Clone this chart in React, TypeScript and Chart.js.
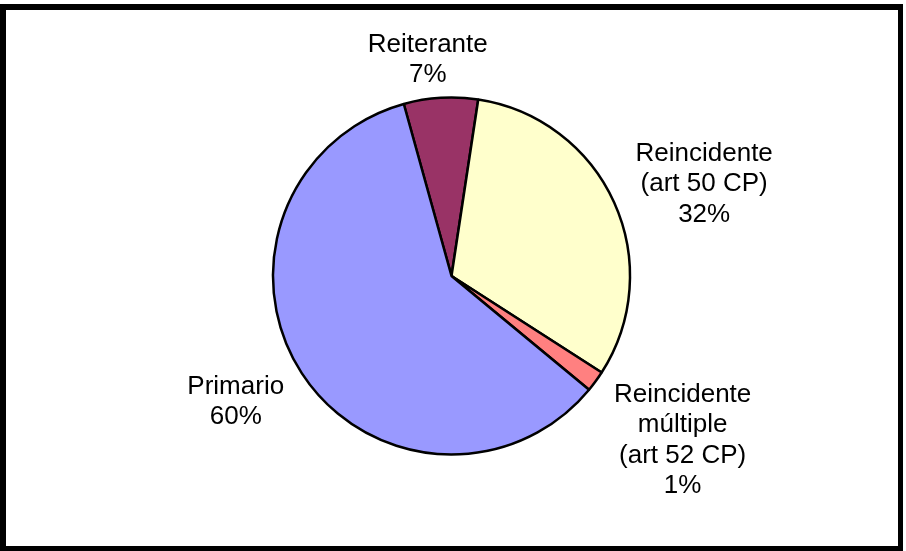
import React, { useEffect, useRef } from "react";
import { Chart, registerables } from "chart.js";

Chart.register(...registerables);

const categories = [
  "Reiterante",
  "Reincidente (art 50 CP)",
  "Reincidente múltiple (art 52 CP)",
  "Primario",
];
const values = [6.7, 31.7, 1.9, 59.7];
const percentLabels = ["7%", "32%", "1%", "60%"];
const labelLines = [
  ["Reiterante"],
  ["Reincidente", "(art 50 CP)"],
  ["Reincidente", "múltiple", "(art 52 CP)"],
  ["Primario"],
];
const colors = ["#993366", "#FFFFCC", "#FF8080", "#9999FF"];

// label block offsets relative to the slice's outer mid-point
const labelNudges = [
  { dx: -13, dy: -31 },
  { dx: 90, dy: -11 },
  { dx: 87, dy: 66 },
  { dx: -66, dy: 36 },
];

const labelPlugin = {
  id: "sliceLabels",
  afterDatasetsDraw(chart: any) {
    const ctx = chart.ctx;
    const meta = chart.getDatasetMeta(0);
    ctx.save();
    ctx.font = "26px 'Liberation Sans', Arial, sans-serif";
    ctx.fillStyle = "#000";
    ctx.textAlign = "center";
    ctx.textBaseline = "alphabetic";
    const lh = 30.5;
    meta.data.forEach((arc: any, i: number) => {
      const p = arc.getProps(["x", "y", "startAngle", "endAngle", "outerRadius"], true);
      const mid = (p.startAngle + p.endAngle) / 2;
      const px = p.x + Math.cos(mid) * p.outerRadius;
      const py = p.y + Math.sin(mid) * p.outerRadius;
      const lines = [...labelLines[i], percentLabels[i]];
      const cx = px + labelNudges[i].dx;
      const cy = py + labelNudges[i].dy;
      const n = lines.length;
      lines.forEach((t, k) => {
        ctx.fillText(t, cx, cy + (k - (n - 1) / 2) * lh);
      });
    });
    ctx.restore();
  },
};

export default function App() {
  const ref = useRef<HTMLCanvasElement>(null);
  useEffect(() => {
    document.body.style.margin = "0";
    const chart = new Chart(ref.current!, {
      type: "pie",
      data: {
        labels: categories,
        datasets: [
          {
            data: values,
            backgroundColor: colors,
            borderColor: "#000",
            borderWidth: 2.5,
            radius: 178.5,
          } as any,
        ],
      },
      options: {
        animation: false,
        responsive: false,
        devicePixelRatio: 1,
        events: [],
        rotation: -15.5,
        layout: { padding: { left: 0, right: 3, top: 1, bottom: 0 } },
        plugins: {
          legend: { display: false },
          tooltip: { enabled: false },
        },
      } as any,
      plugins: [labelPlugin],
    });
    return () => chart.destroy();
  }, []);
  return (
    <div style={{ position: "relative", width: 906, height: 551, background: "#fff", overflow: "hidden" }}>
      <div
        style={{
          position: "absolute",
          left: 0,
          top: 4,
          width: 903,
          height: 547,
          boxSizing: "border-box",
          borderStyle: "solid",
          borderColor: "#000",
          borderWidth: "6px 5px 5px 6px",
        }}
      />
      <canvas
        ref={ref}
        width={906}
        height={551}
        style={{ position: "absolute", left: 0, top: 0, width: 906, height: 551 }}
      />
    </div>
  );
}
